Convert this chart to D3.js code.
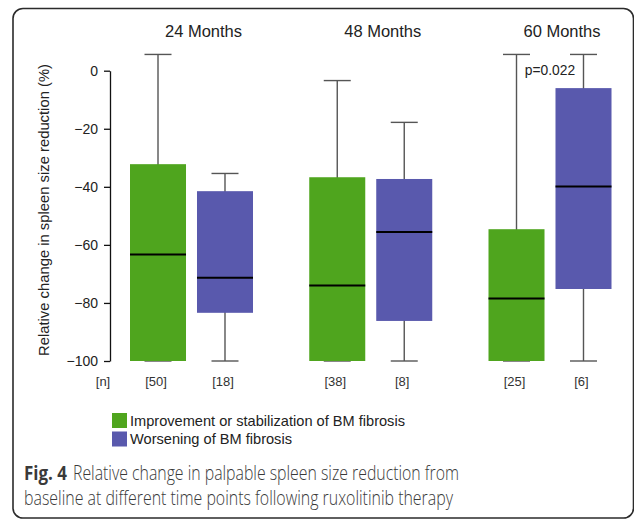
<!DOCTYPE html>
<html>
<head>
<meta charset="utf-8">
<script src="https://cdn.jsdelivr.net/npm/d3@7"></script>
<style>
  html, body { margin: 0; padding: 0; background: #fff; }
  svg { display: block; font-family: "Liberation Sans", Arial, Helvetica, sans-serif; }
</style>
</head>
<body>
<svg id="chart" width="634" height="519"></svg>
<script>
// ---- Data ----
const groups = ["24 Months", "48 Months", "60 Months"];
const seriesNames = ["Improvement or stabilization of BM fibrosis", "Worsening of BM fibrosis"];
const seriesColors = ["#4fa51e", "#5959ad"];
// box stats per group: [min, q1, median, q3, max]
const improveStats = [
  [-100, -100, -63.3, -32.2, 5.6],
  [-100, -100, -74.0, -36.7, -3.4],
  [-100, -100, -78.5, -54.6, 5.6]
];
const worsenStats = [
  [-100, -83.4, -71.3, -41.5, -35.4],
  [-100, -86.2, -55.6, -37.3, -17.8],
  [-100, -75.2, -39.9, -6.0, 5.6]
];
const improveN = [50, 38, 25];
const worsenN = [18, 8, 6];
const yTicks = [0, -20, -40, -60, -80, -100];
const yLabel = "Relative change in spleen size reduction (%)";
const pValueText = "p=0.022";
const captionBold = "Fig. 4";
const captionLine1 = "Relative change in palpable spleen size reduction from";
const captionLine2 = "baseline at different time points following ruxolitinib therapy";

// ---- Layout ----
const svg = d3.select("#chart");
const chartFont = "'Liberation Sans', Arial, Helvetica, sans-serif";

// frame
svg.append("rect")
  .attr("x", 13).attr("y", 8.5).attr("width", 620.5).attr("height", 509.5)
  .attr("rx", 10).attr("ry", 10)
  .attr("fill", "none").attr("stroke", "#2b2b2b").attr("stroke-width", 1.6);

const y = d3.scaleLinear().domain([-100, 0]).range([361, 70.7]);
const xGroup = d3.scalePoint().domain(groups).range([191.5, 550]);
const xSeries = d3.scaleBand().domain([0, 1]).range([-61.5, 61.5]).paddingInner(0.164).paddingOuter(0);
const bw = xSeries.bandwidth();
const capW = 27;

// y axis
const axisG = svg.append("g").attr("transform", "translate(110,0)")
  .call(d3.axisLeft(y).tickValues(yTicks).tickSize(6).tickSizeOuter(0).tickPadding(6).tickFormat(d3.format("d")));
axisG.attr("font-family", chartFont).attr("font-size", 14);
axisG.select(".domain").attr("stroke", "#111").attr("stroke-width", 1.3);
axisG.selectAll(".tick line").attr("stroke", "#111").attr("stroke-width", 1.3);
axisG.selectAll(".tick text").attr("fill", "#222").style("font-family", chartFont).style("font-size", "14px");

// y label
svg.append("text")
  .attr("transform", `translate(49,210) rotate(-90)`)
  .attr("text-anchor", "middle").attr("font-size", 14.8).attr("fill", "#222")
  .text(yLabel);

// group titles
svg.selectAll(".gtitle").data(groups).enter().append("text")
  .attr("class", "gtitle")
  .attr("x", d => xGroup(d) + 12).attr("y", 37)
  .attr("text-anchor", "middle").attr("font-size", 16.5).attr("fill", "#222")
  .text(d => d);

// boxes
const allSeries = [improveStats, worsenStats];
const allN = [improveN, worsenN];
allSeries.forEach((stats, si) => {
  stats.forEach((s, gi) => {
    const cx = xGroup(groups[gi]) + xSeries(si) + bw / 2;
    const g = svg.append("g");
    const [mn, q1, md, q3, mx] = s;
    // whiskers
    g.append("line").attr("x1", cx).attr("x2", cx).attr("y1", y(mx)).attr("y2", y(mn))
      .attr("stroke", "#555").attr("stroke-width", 1.4);
    [mx, mn].forEach(v => {
      g.append("line").attr("x1", cx - capW / 2).attr("x2", cx + capW / 2)
        .attr("y1", y(v)).attr("y2", y(v))
        .attr("stroke", "#555").attr("stroke-width", 1.4);
    });
    // box
    g.append("rect")
      .attr("x", cx - bw / 2).attr("width", bw)
      .attr("y", y(q3)).attr("height", y(q1) - y(q3))
      .attr("fill", seriesColors[si]);
    // median
    g.append("line").attr("x1", cx - bw / 2).attr("x2", cx + bw / 2)
      .attr("y1", y(md)).attr("y2", y(md))
      .attr("stroke", "#000").attr("stroke-width", 2);
    // n label
    svg.append("text")
      .attr("x", cx - 2).attr("y", 386)
      .attr("text-anchor", "middle").attr("font-size", 13).attr("fill", "#333")
      .text(`[${allN[si][gi]}]`);
  });
});

svg.append("text")
  .attr("x", 103).attr("y", 386)
  .attr("text-anchor", "middle").attr("font-size", 13).attr("fill", "#333")
  .text("[n]");

// p value
svg.append("text")
  .attr("x", xGroup(groups[2])).attr("y", 75)
  .attr("text-anchor", "middle").attr("font-size", 13.8).attr("fill", "#222")
  .text(pValueText);

// legend
const leg = svg.append("g");
seriesNames.forEach((name, i) => {
  leg.append("rect").attr("x", 112).attr("y", 413 + i * 18.5)
    .attr("width", 15).attr("height", 15).attr("fill", seriesColors[i]);
  leg.append("text").attr("x", 130).attr("y", 426 + i * 17.5)
    .attr("font-size", 14.6).attr("fill", "#222").text(name);
});

// caption
const capFont = "'Open Sans', 'Noto Sans', sans-serif";
svg.append("text").attr("x", 24).attr("y", 480)
  .attr("font-family", capFont).attr("font-weight", "bold").attr("font-size", 20).attr("fill", "#3a3a3a")
  .attr("textLength", 43).attr("lengthAdjust", "spacingAndGlyphs")
  .text(captionBold);
svg.append("text").attr("x", 73).attr("y", 480)
  .attr("font-family", capFont).attr("font-weight", 300).attr("font-size", 20).attr("fill", "#3a3a3a")
  .attr("textLength", 386).attr("lengthAdjust", "spacingAndGlyphs")
  .text(captionLine1);
svg.append("text").attr("x", 24).attr("y", 505)
  .attr("font-family", capFont).attr("font-weight", 300).attr("font-size", 20).attr("fill", "#3a3a3a")
  .attr("textLength", 429).attr("lengthAdjust", "spacingAndGlyphs")
  .text(captionLine2);
</script>
</body>
</html>
